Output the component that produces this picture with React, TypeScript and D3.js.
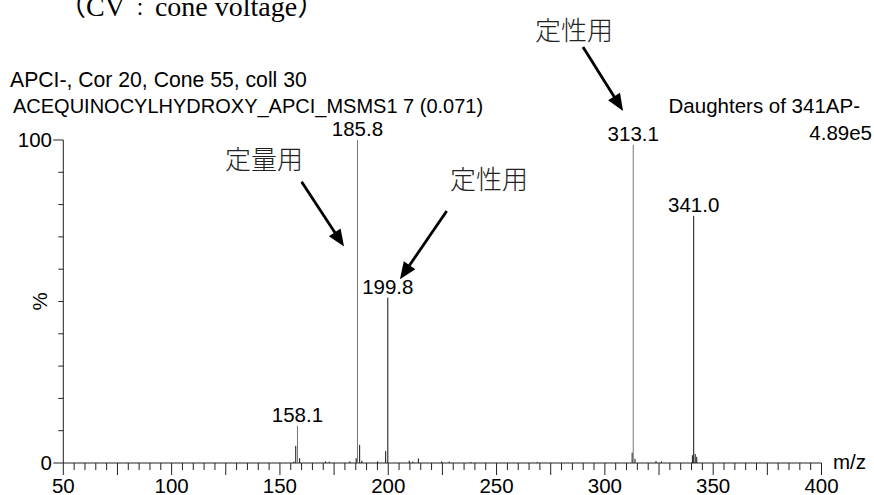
import React from "react";
import * as d3 from "d3";

// ---- data ----
const peakMz = [
  156.4, 157.3, 158.1, 159.1, 171.1, 172.8, 182.3, 185.2, 185.8, 186.8, 187.8,
  195.1, 198.8, 199.8, 209.7, 211.3, 213.9, 224.7, 228.2, 238.2, 268.8,
  312.6, 313.1, 313.9, 323.6, 326.1, 340.4, 341.0, 341.7, 342.4,
];
const peakIntensity = [
  0.4, 5.3, 11.5, 1.5, 0.5, 0.4, 0.5, 1.5, 100, 5.6, 0.7,
  0.5, 3.7, 51.2, 0.7, 0.4, 1.4, 0.5, 0.4, 0.3, 0.3,
  3.2, 98.5, 1.3, 0.6, 0.5, 2.4, 76.5, 2.8, 1.9,
];
const labelMz = [158.1, 185.8, 199.8, 313.1, 341.0];
const labelIntensity = [11.5, 100, 51.2, 98.5, 76.5];
const labelText = ["158.1", "185.8", "199.8", "313.1", "341.0"];

const xTickLabels = [50, 100, 150, 200, 250, 300, 350, 400];
const yTickLabels = [0, 100];

const annotations = [
  { text: "定量用", tx: 142.6, ty: 91.0, fx: 160.0, fy: 87.1, ex: 179.6, ey: 67.0 },
  { text: "定性用", tx: 246.5, ty: 84.8, fx: 227.0, fy: 78.0, ex: 205.4, ey: 56.9 },
  { text: "定性用", tx: 285.7, ty: 131.0, fx: 289.9, fy: 128.8, ex: 308.4, ey: 109.0 },
];

const greyPeaks = new Set([158.1, 185.8, 313.1]);

const W = 874;
const H = 495;
const sans = "'Liberation Sans', Arial, sans-serif";

export default function App() {
  const x = d3.scaleLinear().domain([50, 400]).range([63.3, 821.5]);
  const y = d3.scaleLinear().domain([0, 100]).range([463, 140]);

  const xMinor = d3.range(50, 401, 5);
  const yMinor = d3.range(0, 101, 10);

  const arrowHead = (x1: number, y1: number, x2: number, y2: number) => {
    const ang = Math.atan2(y2 - y1, x2 - x1);
    const L = 17;
    const hw = 7;
    const bx = x2 - L * Math.cos(ang);
    const by = y2 - L * Math.sin(ang);
    const px = -Math.sin(ang) * hw;
    const py = Math.cos(ang) * hw;
    return `M${x2},${y2} L${bx + px},${by + py} L${bx - px},${by - py} Z`;
  };

  return (
    <svg
      width={W}
      height={H}
      style={{ position: "absolute", left: 0, top: 0, background: "#fff" }}
      fontFamily={sans}
    >
      <rect x={0} y={0} width={W} height={H} fill="#fff" />
      {/* top caption */}
      <text
        x={58}
        y={16}
        fontFamily="'Liberation Serif', 'Times New Roman', 'Noto Sans CJK JP', serif"
        fontSize={28}
        fill="#000"
      >
        （CV<tspan fontSize={18} dx={6}>：</tspan>
        <tspan dx={6}>cone voltage）</tspan>
      </text>

      {/* header */}
      <text x={10} y={87} fontSize={21.2} fill="#000">
        APCI-, Cor 20, Cone 55, coll 30
      </text>
      <text x={13} y={113} fontSize={20} fill="#000">
        ACEQUINOCYLHYDROXY_APCI_MSMS1 7 (0.071)
      </text>
      <text x={860} y={113} fontSize={20.5} textAnchor="end" fill="#000">
        Daughters of 341AP-
      </text>
      <text x={872} y={140} fontSize={20.5} textAnchor="end" fill="#000">
        4.89e5
      </text>

      {/* y axis */}
      <line x1={x(50)} x2={x(50)} y1={y(100)} y2={y(0)} stroke="#222" strokeWidth={1} />
      {yMinor.map((v) => {
        const major = v === 0 || v === 100;
        return (
          <line
            key={"ym" + v}
            x1={x(50) - (major ? 10 : 5)}
            x2={x(50)}
            y1={y(v)}
            y2={y(v)}
            stroke="#222"
            strokeWidth={1}
          />
        );
      })}
      {yTickLabels.map((v) => (
        <text
          key={"yl" + v}
          x={52}
          y={y(v)}
          dy="0.36em"
          fontSize={20.5}
          textAnchor="end"
          fill="#000"
        >
          {v}
        </text>
      ))}
      <text
        transform={`translate(47,${y(50)}) rotate(-90)`}
        fontSize={20.5}
        textAnchor="middle"
        fill="#000"
      >
        %
      </text>

      {/* x axis */}
      <line x1={x(50)} x2={x(400)} y1={y(0)} y2={y(0)} stroke="#222" strokeWidth={1} />
      {xMinor.map((v) => {
        const major = v % 25 === 0;
        return (
          <line
            key={"xm" + v}
            x1={x(v)}
            x2={x(v)}
            y1={y(0)}
            y2={y(0) + (major ? 12 : 7)}
            stroke="#222"
            strokeWidth={1}
          />
        );
      })}
      {xTickLabels.map((v) => (
        <text key={"xl" + v} x={x(v)} y={493} fontSize={20.5} textAnchor="middle" fill="#000">
          {v}
        </text>
      ))}
      <text x={833} y={469} fontSize={20.5} fill="#000">
        m/z
      </text>

      {/* peaks */}
      {peakMz.map((m, i) => (
        <line
          key={"p" + i}
          x1={x(m)}
          x2={x(m)}
          y1={y(0)}
          y2={y(peakIntensity[i])}
          stroke={greyPeaks.has(m) ? "#767676" : "#111"}
          strokeWidth={1}
        />
      ))}
      {labelMz.map((m, i) => (
        <text
          key={"lb" + i}
          x={x(m)}
          y={y(labelIntensity[i]) - 4}
          fontSize={20.5}
          textAnchor="middle"
          fill="#000"
        >
          {labelText[i]}
        </text>
      ))}

      {/* annotations */}
      {annotations.map((a, i) => {
        const x1 = x(a.fx);
        const y1 = y(a.fy);
        const x2 = x(a.ex);
        const y2 = y(a.ey);
        const ang = Math.atan2(y2 - y1, x2 - x1);
        const lx = x2 - 12 * Math.cos(ang);
        const ly = y2 - 12 * Math.sin(ang);
        return (
          <g key={"an" + i}>
            <text
              x={x(a.tx)}
              y={y(a.ty)}
              fontSize={26}
              textAnchor="middle"
              fontFamily="'Noto Sans CJK JP', sans-serif"
              fontWeight={300}
              fill="#222"
            >
              {a.text}
            </text>
            <line x1={x1} y1={y1} x2={lx} y2={ly} stroke="#000" strokeWidth={2.8} />
            <path d={arrowHead(x1, y1, x2, y2)} fill="#000" />
          </g>
        );
      })}
    </svg>
  );
}
